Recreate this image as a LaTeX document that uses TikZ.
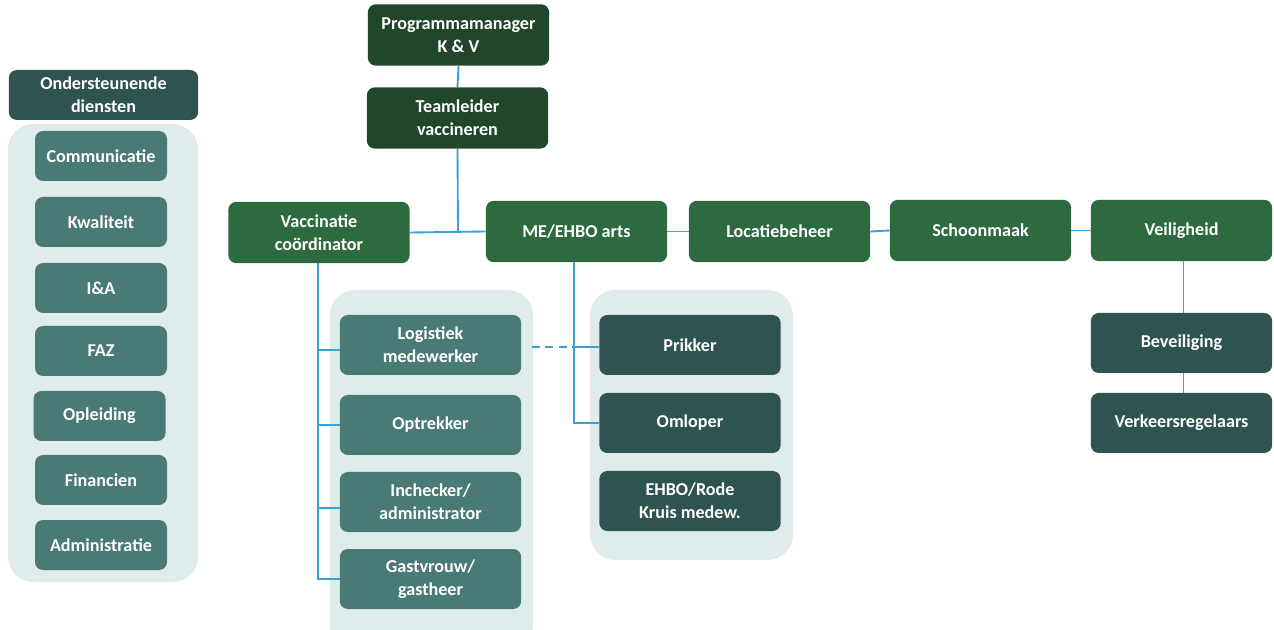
\documentclass[tikz,border=0pt]{standalone}
\usepackage{fontspec}
\setmainfont{Carlito}
\begin{document}
\begin{tikzpicture}[x=0.75pt,y=-0.75pt,
  base/.style={rounded corners=6pt,text=white,font=\bfseries\fontsize{13.6}{17.2}\selectfont,align=center,inner sep=0pt},
  topbox/.style={base,fill=topgreen,minimum width=136pt,minimum height=46pt},
  midbox/.style={base,fill=midgreen,minimum width=136pt,minimum height=46pt},
  darkbox/.style={base,fill=darkteal,minimum width=136pt,minimum height=45pt},
  tealbox/.style={base,fill=teal1,minimum width=136pt,minimum height=45pt},
  leftbox/.style={base,fill=teal1,minimum width=99pt,minimum height=37.5pt},
  panel/.style={fill=panelbg,rounded corners=19pt},
  conn/.style={draw=linecol,line width=1.4pt}]
\definecolor{topgreen}{HTML}{22462B}
\definecolor{midgreen}{HTML}{2E6A3F}
\definecolor{darkteal}{HTML}{2F5350}
\definecolor{teal1}{HTML}{4A7A76}
\definecolor{panelbg}{HTML}{E0ECEB}
\definecolor{linecol}{HTML}{3AA0D5}
\useasboundingbox (0,0) rectangle (1274,630);
% panels
\fill[panel] (8,124) rectangle (198,582);
\fill[panel] (330,290) rectangle (533,650);
\fill[panel] (590,290) rectangle (793,560);
% top
\node[topbox] (pm) at (458.5,35) {Programmamanager\\K \& V};
\node[topbox] (tl) at (457.5,118) {Teamleider\\vaccineren};
\node[midbox] (vc) at (319,232.5) {Vaccinatie\\coördinator};
\node[midbox] (me) at (576.5,231.5) {ME/EHBO arts};
\node[midbox] (lb) at (779.5,231.5) {Locatiebeheer};
\node[midbox] (sm) at (980.5,230.5) {Schoonmaak};
\node[midbox] (vh) at (1181.5,230.5) {Veiligheid};
\node[darkbox] (bv) at (1181.5,343) {Beveiliging};
\node[darkbox] (vr) at (1181.5,423) {Verkeersregelaars};
% left
\node[base,fill=darkteal,minimum width=142pt,minimum height=37.5pt] (od) at (103.5,95) {Ondersteunende\\diensten};
\node[leftbox] (c1) at (101,156) {Communicatie};
\node[leftbox] (c2) at (101,222) {Kwaliteit};
\node[leftbox] (c3) at (101,288) {I\&A};
\node[leftbox] (c4) at (101,351) {FAZ};
\node[leftbox] (c5) at (99.5,416) {Opleiding};
\node[leftbox] (c6) at (101,480) {Financien};
\node[leftbox] (c7) at (101,545) {Administratie};
% middle
\node[tealbox] (lg) at (430.5,345) {Logistiek\\medewerker};
\node[tealbox] (op) at (430.5,425) {Optrekker};
\node[tealbox] (ic) at (430.5,502) {Inchecker/\\administrator};
\node[tealbox] (gv) at (430.5,579) {Gastvrouw/\\gastheer};
% right
\node[darkbox] (pr) at (690,345) {Prikker};
\node[darkbox] (om) at (690,423) {Omloper};
\node[darkbox] (eh) at (690,501) {EHBO/Rode\\Kruis medew.};
% connectors
\draw[conn] (pm.south) -- (tl.north);
\coordinate (j1) at (458,232);
\draw[conn] (tl.south) -- (j1);
\draw[conn] (vc.east) -- (me.west);
\draw[conn] (me.east) -- (lb.west);
\draw[conn] (lb.east) -- (sm.west);
\draw[conn] (sm.east) -- (vh.west);
\draw[conn] ([xshift=1.5pt]vh.south) -- ([xshift=1.5pt]bv.north);
\draw[conn] ([xshift=1.5pt]bv.south) -- ([xshift=1.5pt]vr.north);
\coordinate (v1) at (318,263);
\draw[conn] (v1) |- (gv.west);
\draw[conn] (318,350) -- (lg.west |- 0,350);
\draw[conn] (318,425) -- (op.west);
\draw[conn] (318,508) -- (ic.west |- 0,508);
\coordinate (m1) at (574,262);
\draw[conn] (m1) |- (om.west);
\draw[conn] (574,347) -- (pr.west |- 0,347);
\draw[conn,dashed,dash pattern=on 6pt off 4pt] ([xshift=8pt]lg.east |- 0,347) -- (574,347);
\end{tikzpicture}
\end{document}
